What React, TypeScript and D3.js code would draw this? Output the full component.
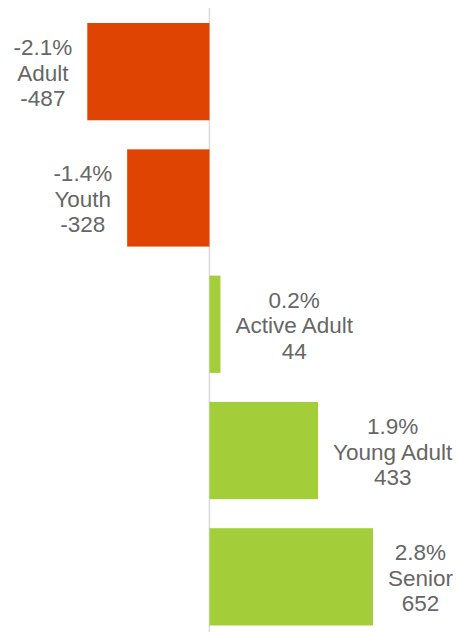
import React, { useEffect, useRef } from "react";
import * as d3 from "d3";

const categories = ["Adult", "Youth", "Active Adult", "Young Adult", "Senior"];
const counts = [-487, -328, 44, 433, 652];
const percents = ["-2.1%", "-1.4%", "0.2%", "1.9%", "2.8%"];

const W = 461;
const H = 632;

export default function App() {
  const ref = useRef<SVGSVGElement | null>(null);

  useEffect(() => {
    const svg = d3.select(ref.current);
    svg.selectAll("*").remove();

    const x = d3.scaleLinear().domain([-835, 1003]).range([0, W]);
    const y = d3
      .scaleBand<string>()
      .domain(categories)
      .range([8.5, 640])
      .paddingInner(0.23)
      .paddingOuter(0.115);

    const data = categories.map((c, i) => ({ c, v: counts[i], p: percents[i] }));

    svg
      .append("line")
      .attr("x1", x(0))
      .attr("x2", x(0))
      .attr("y1", 8)
      .attr("y2", H)
      .attr("stroke", "#d9d9d9")
      .attr("stroke-width", 1.5);

    svg
      .selectAll("rect.bar")
      .data(data)
      .join("rect")
      .attr("class", "bar")
      .attr("x", (d) => Math.min(x(0), x(d.v)))
      .attr("width", (d) => Math.abs(x(d.v) - x(0)))
      .attr("y", (d) => y(d.c)!)
      .attr("height", y.bandwidth())
      .attr("fill", (d) => (d.v < 0 ? "#E04403" : "#A3CE3A"));

    const lineH = 25.5;
    data.forEach((d) => {
      const cy = y(d.c)! + y.bandwidth() / 2;
      const g = svg
        .append("text")
        .attr("text-anchor", "middle")
        .style("font-family", "Arial, 'Liberation Sans', Helvetica, sans-serif")
        .style("font-size", "22.5px")
        .attr("fill", "#666666");
      const lines = [d.p, d.c, String(d.v)];
      const tspans = lines.map((t, i) =>
        g
          .append("tspan")
          .attr("y", cy + 9 + (i - 1) * lineH)
          .text(t)
      );
      const maxW = d3.max(tspans, (t) => (t.node() as SVGTextContentElement).getComputedTextLength()) || 0;
      const gap = 15;
      const cx = d.v < 0 ? x(d.v) - gap - maxW / 2 : x(d.v) + gap + maxW / 2;
      tspans.forEach((t) => t.attr("x", cx));
    });
  }, []);

  return (
    <svg
      ref={ref}
      width={W}
      height={H}
      style={{ position: "absolute", left: 0, top: 0, display: "block", background: "#fff" }}
    />
  );
}
